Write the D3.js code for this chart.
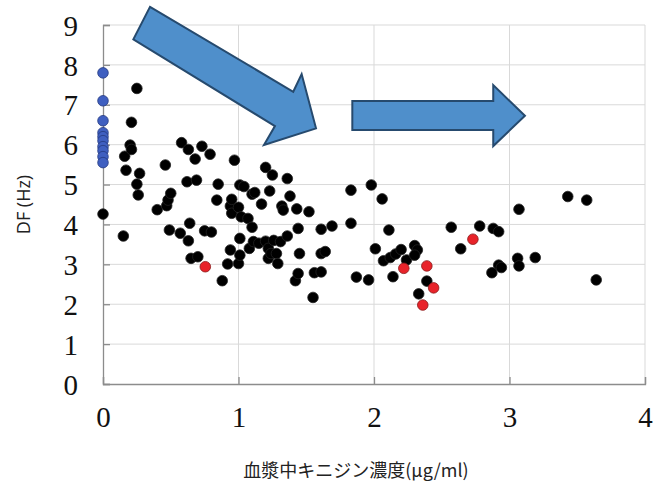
<!DOCTYPE html>
<html><head><meta charset="utf-8">
<script src="https://cdn.jsdelivr.net/npm/d3@7"></script>
<style>body{margin:0;background:#fff}svg{display:block}</style>
</head><body>
<svg id="c" width="653" height="486"></svg>
<script>
const xTicks = [0,1,2,3,4];
const yTicks = [0,1,2,3,4,5,6,7,8,9];
const xTitle = "血漿中キニジン濃度(μg/ml)";
const yTitle = "DF (Hz)";

// blue: baseline (concentration 0)
const blueX = [0,0,0,0,0,0,0,0,0,0];
const blueY = [7.8,7.1,6.6,6.3,6.2,6.1,5.95,5.85,5.7,5.55];

// black points
const blackX = [0.0,0.15,0.16,0.17,0.20,0.21,0.21,0.25,0.25,0.26,0.27,0.40,0.46,0.47,0.48,0.50,0.49,0.57,0.58,0.62,
0.63,0.63,0.64,0.65,0.68,0.69,0.70,0.73,0.75,0.79,0.80,0.84,0.85,0.88,0.92,0.94,0.94,0.95,0.95,0.97,
1.00,1.00,1.01,1.01,1.01,1.04,1.02,1.07,1.08,1.10,1.10,1.12,1.11,1.15,1.17,1.20,1.20,1.22,1.22,1.23,
1.24,1.25,1.26,1.28,1.29,1.31,1.32,1.33,1.36,1.36,1.38,1.42,1.43,1.44,1.44,1.45,1.52,1.55,1.56,1.61,
1.61,1.61,1.64,1.69,1.83,1.83,1.87,1.96,1.98,2.01,2.06,2.07,2.11,2.12,2.14,2.16,2.20,2.24,2.30,2.32,
2.30,2.33,2.39,2.57,2.64,2.78,2.88,2.92,2.92,2.94,2.87,3.06,3.07,3.07,3.19,3.43,3.57,3.64];
const blackY = [4.26,3.71,5.71,5.36,5.99,5.88,6.56,7.41,5.01,4.74,5.28,4.37,5.49,4.47,4.61,4.78,3.86,3.78,6.05,5.07,
5.88,3.59,4.03,3.15,5.64,5.11,3.19,5.96,3.84,5.76,3.81,4.61,5.01,2.59,3.01,3.36,4.46,4.63,4.28,5.61,
4.43,3.02,3.23,3.65,4.99,4.95,4.19,4.15,3.40,3.93,4.76,4.80,3.57,3.53,4.51,5.43,3.58,3.40,3.15,4.84,
3.27,5.24,3.60,3.27,3.02,3.57,4.46,4.36,5.15,3.71,4.71,2.59,4.39,3.90,2.77,3.27,4.32,2.17,2.79,2.81,
3.88,3.27,3.32,3.96,4.86,4.03,2.68,2.61,4.99,3.39,4.64,3.09,3.86,3.17,2.69,3.26,3.37,3.11,3.47,3.36,
3.23,2.26,2.58,3.93,3.39,3.96,3.90,3.82,2.98,2.92,2.79,3.15,2.96,4.38,3.17,4.70,4.61,2.61];

// red points
const redX = [0.755,2.22,2.39,2.44,2.36,2.73];
const redY = [2.94,2.90,2.96,2.41,1.98,3.63];

// annotation arrows (data units)
const arrow1X = [0.347,1.404,1.466,1.572,1.188,1.269,0.224];
const arrow1Y = [9.456,7.326,7.769,6.409,5.990,6.466,8.639];
const arrow2X = [1.840,2.880,2.880,3.114,2.880,2.880,1.840];
const arrow2Y = [7.093,7.093,7.494,6.724,5.965,6.366,6.366];

const svg = d3.select("#c");
const L = 103, R = 645, T = 25, B = 384;
const x = d3.scaleLinear().domain([0,4]).range([L,R]);
const y = d3.scaleLinear().domain([0,9]).range([B,T]);

// gridlines
svg.append("g").selectAll("line.h").data(yTicks.filter(d=>d>0)).join("line")
  .attr("x1",L).attr("x2",R).attr("y1",d=>y(d)).attr("y2",d=>y(d))
  .attr("stroke","#d9d9d9").attr("stroke-width",1);
svg.append("g").selectAll("line.v").data(xTicks.filter(d=>d>0)).join("line")
  .attr("y1",T).attr("y2",B).attr("x1",d=>x(d)).attr("x2",d=>x(d))
  .attr("stroke","#d9d9d9").attr("stroke-width",1);

// axes
const ya = svg.append("g").attr("transform",`translate(${L},0)`)
  .call(d3.axisLeft(y).tickValues(yTicks).tickSize(-7).tickPadding(25).tickFormat(d3.format("d")));
const xa = svg.append("g").attr("transform",`translate(0,${B})`)
  .call(d3.axisBottom(x).tickValues(xTicks).tickSize(-7).tickPadding(22).tickFormat(d3.format("d")));
[ya,xa].forEach(g=>{
  g.select(".domain").attr("stroke","#8c8c8c").attr("stroke-width",1.3);
  g.selectAll(".tick line").attr("stroke","#8c8c8c").attr("stroke-width",1.3);
  g.selectAll(".tick text").attr("fill","#111").attr("font-family","'Liberation Serif',serif").attr("font-size",29);
});
ya.selectAll(".tick text").attr("dy","0.35em");

// arrows
const line = d3.line().x(d=>x(d[0])).y(d=>y(d[1]));
[[arrow1X,arrow1Y],[arrow2X,arrow2Y]].forEach(([ax,ay])=>{
  svg.append("path").attr("d",line(d3.zip(ax,ay))+"Z")
    .attr("fill","#4f8fcb").attr("stroke","#264a6e").attr("stroke-width",2).attr("stroke-linejoin","miter");
});

// points
function dots(xs,ys,fill,stroke){
  svg.append("g").selectAll("circle").data(d3.zip(xs,ys)).join("circle")
    .attr("cx",d=>x(d[0])).attr("cy",d=>y(d[1])).attr("r",5.3)
    .attr("fill",fill).attr("stroke",stroke).attr("stroke-width",0.8);
}
dots(blackX,blackY,"#000","#222");
dots(blueX,blueY,"#3f5fc0","#243a80");
dots(redX,redY,"#e8232a","#8a1a1a");

// titles
svg.append("text").attr("x",356).attr("y",477).attr("text-anchor","middle")
  .attr("font-family","'Noto Sans CJK JP',sans-serif").attr("font-size",18).attr("fill","#222").text(xTitle);
svg.append("text").attr("transform",`translate(30,${(T+B)/2}) rotate(-90)`).attr("text-anchor","middle")
  .attr("font-family","'Open Sans','Noto Sans',sans-serif").attr("font-size",18).attr("fill","#222").text(yTitle);
</script>
</body></html>
